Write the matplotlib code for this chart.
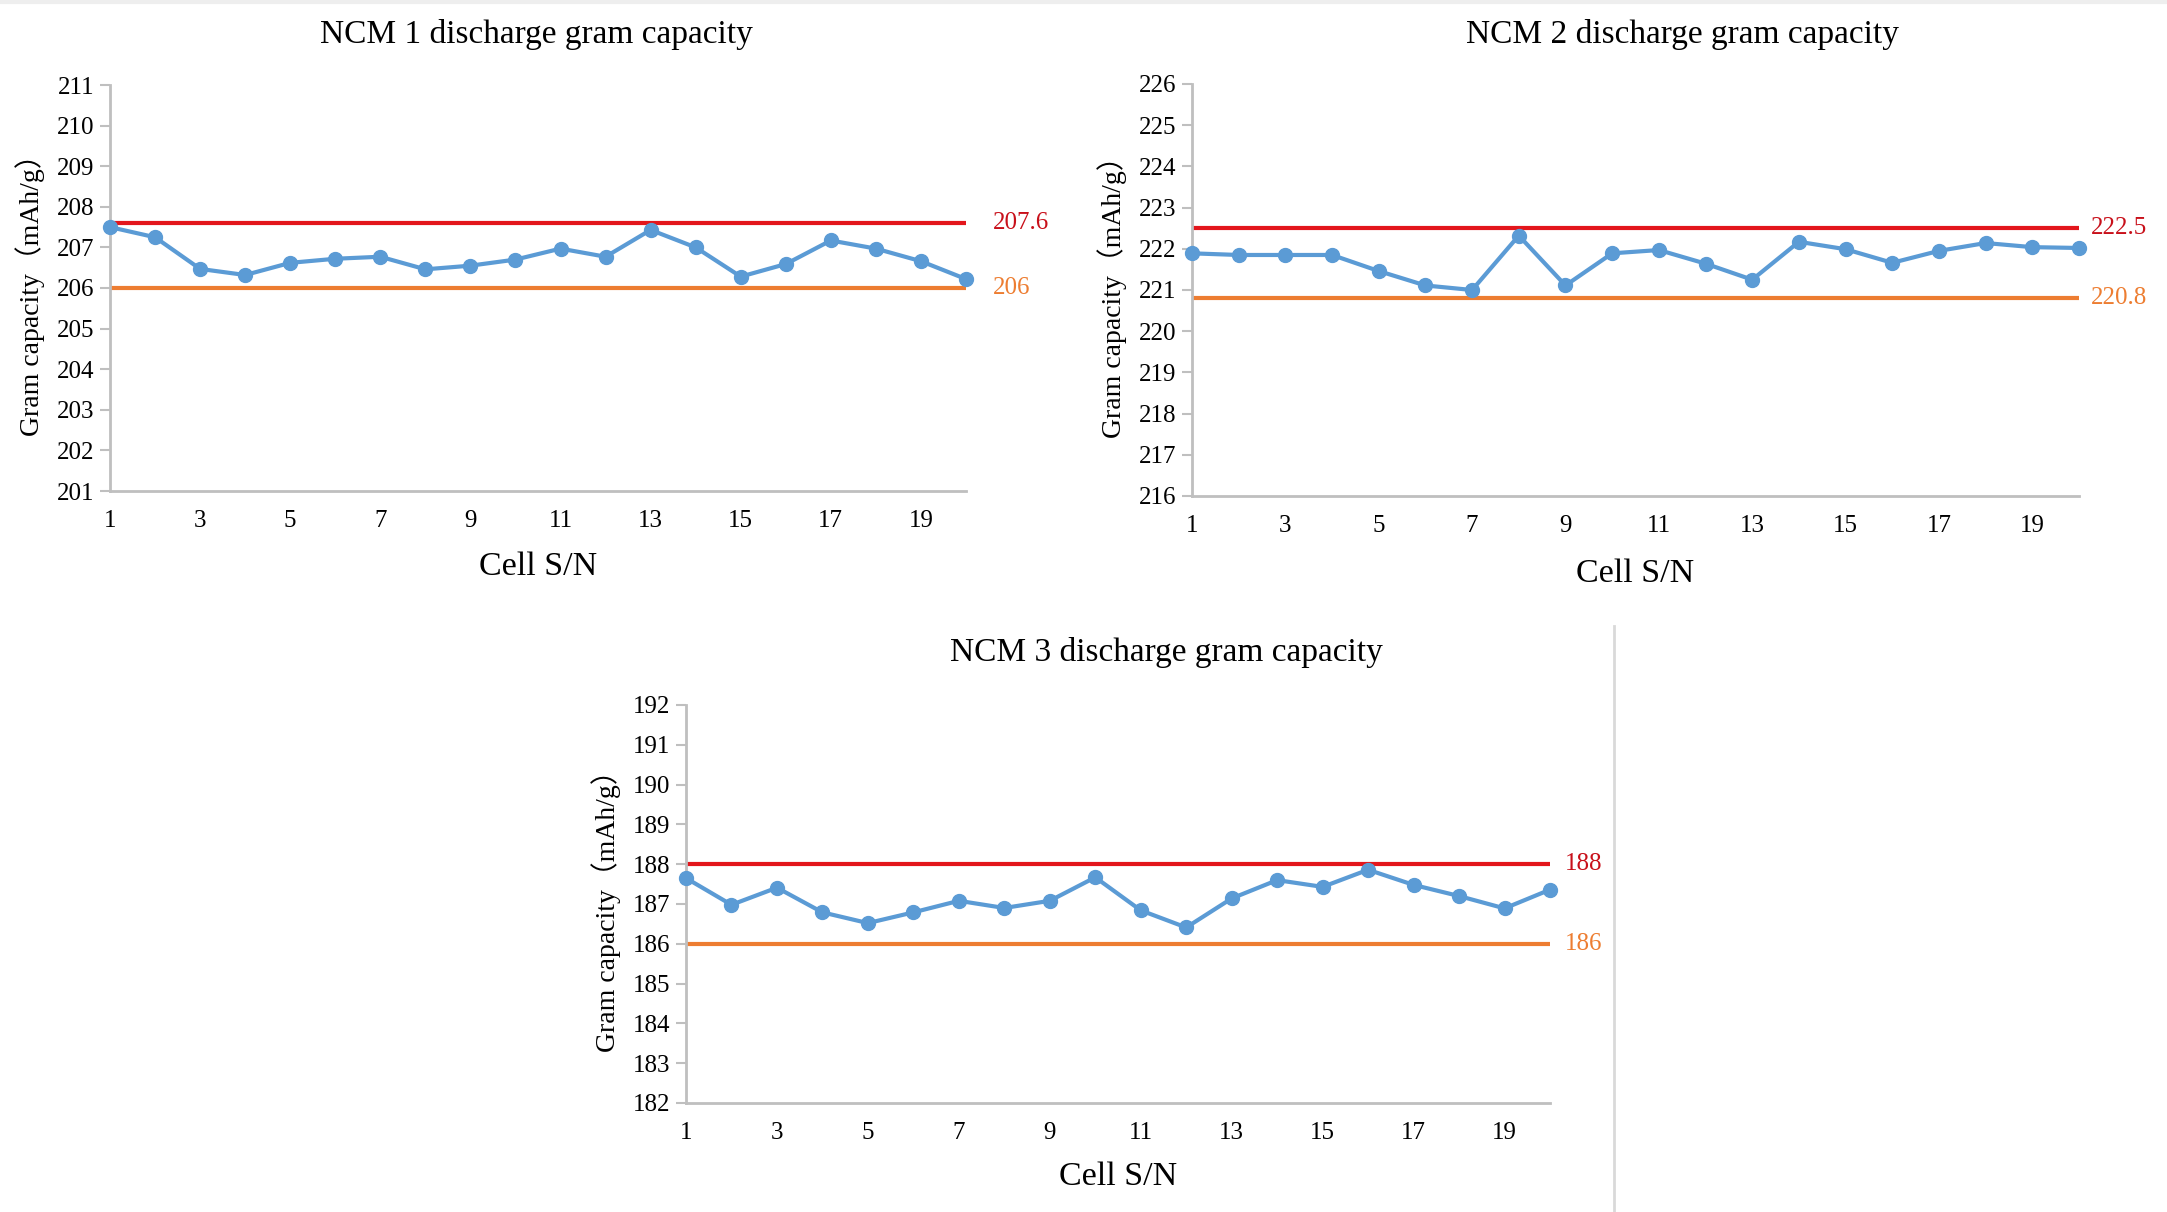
import numpy as np
import matplotlib
matplotlib.use("Agg")
import matplotlib.pyplot as plt

plt.rcParams['font.family'] = ['Liberation Serif', 'Noto Sans CJK SC', 'DejaVu Sans']

cells = np.arange(1, 21)
x_ticks = np.arange(1, 21, 2)

ncm1 = [207.5, 207.25, 206.47, 206.32, 206.62, 206.72, 206.77, 206.46, 206.55, 206.70,
        206.97, 206.77, 207.43, 207.0, 206.28, 206.59, 207.17, 206.97, 206.66, 206.22]
ncm2 = [221.89, 221.85, 221.85, 221.85, 221.46, 221.11, 221.0, 222.32, 221.11, 221.89,
        221.97, 221.64, 221.25, 222.17, 221.99, 221.66, 221.95, 222.14, 222.04, 222.02]
ncm3 = [187.65, 186.98, 187.41, 186.79, 186.52, 186.79, 187.08, 186.90, 187.08, 187.67,
        186.84, 186.41, 187.14, 187.6, 187.43, 187.86, 187.48, 187.2, 186.89, 187.36]

titles = ["NCM 1 discharge gram capacity", "NCM 2 discharge gram capacity",
          "NCM 3 discharge gram capacity"]
upper = [207.6, 222.5, 188]
lower = [206, 220.8, 186]
upper_lbl = ["207.6", "222.5", "188"]
lower_lbl = ["206", "220.8", "186"]
y_ranges = [(201, 211), (216, 226), (182, 192)]

BLUE = "#5B9BD5"
RED = "#E3161C"
RED_TXT = "#C8101A"
ORANGE = "#ED7D31"
GRAY = "#BFBFBF"

W, H = 2167, 1212
fig = plt.figure(figsize=(W / 100, H / 100), dpi=100)

# axes boxes in pixels: left, top, right, bottom
boxes = [(110, 85, 966, 491), (1192, 84, 2079, 496), (686, 705, 1550, 1103)]
title_pos = [(536, 35), (1683, 35), (1166, 652)]
xlabel_y = [567, 574, 1177]
lbl_offset = [27, 12, 15]
series = [ncm1, ncm2, ncm3]

for i in range(3):
    l, t, r, b = boxes[i]
    ax = fig.add_axes([l / W, 1 - b / H, (r - l) / W, (b - t) / H])
    ax.plot(cells, [upper[i]] * len(cells), color=RED, lw=3, zorder=2)
    ax.plot(cells, [lower[i]] * len(cells), color=ORANGE, lw=3, zorder=2)
    ax.plot(cells, series[i], color=BLUE, lw=3, marker="o", ms=10, zorder=3,
            clip_on=False)
    off = lbl_offset[i] * 0.72
    ax.annotate(upper_lbl[i], xy=(20, upper[i]), xytext=(off, 0), textcoords="offset points",
                ha="left", va="center", color=RED_TXT, fontsize=18)
    ax.annotate(lower_lbl[i], xy=(20, lower[i]), xytext=(off, 0), textcoords="offset points",
                ha="left", va="center", color=ORANGE, fontsize=18)

    ax.set_xlim(1, 20)
    ax.set_ylim(*y_ranges[i])
    ax.set_xticks(x_ticks)
    ax.set_yticks(np.arange(y_ranges[i][0], y_ranges[i][1] + 1))
    for s in ["top", "right"]:
        ax.spines[s].set_visible(False)
    for s in ["left", "bottom"]:
        ax.spines[s].set_color(GRAY)
        ax.spines[s].set_linewidth(2)
    ax.tick_params(axis="y", length=7, width=1.5, color=GRAY, pad=4, labelsize=18)
    ax.tick_params(axis="x", length=0, pad=14, labelsize=18)

    fig.text(title_pos[i][0] / W, 1 - title_pos[i][1] / H, titles[i],
             ha="center", va="center", fontsize=24)
    fig.text((l + r) / 2 / W, 1 - xlabel_y[i] / H, "Cell S/N",
             ha="center", va="center", fontsize=24.5)
    ax.set_ylabel("Gram capacity（mAh/g）", fontsize=20)
    ax.yaxis.set_label_coords(-65 / (r - l), 0.5)

# separator line and top band
fig.add_artist(plt.Line2D([1614 / W, 1614 / W], [0, 1 - 626 / H], color="#D9D9D9", lw=2))
fig.add_artist(plt.Line2D([0, 1], [1 - 1.5 / H, 1 - 1.5 / H], color="#EEEEEE", lw=3))

fig.savefig("out.png", dpi=100)
